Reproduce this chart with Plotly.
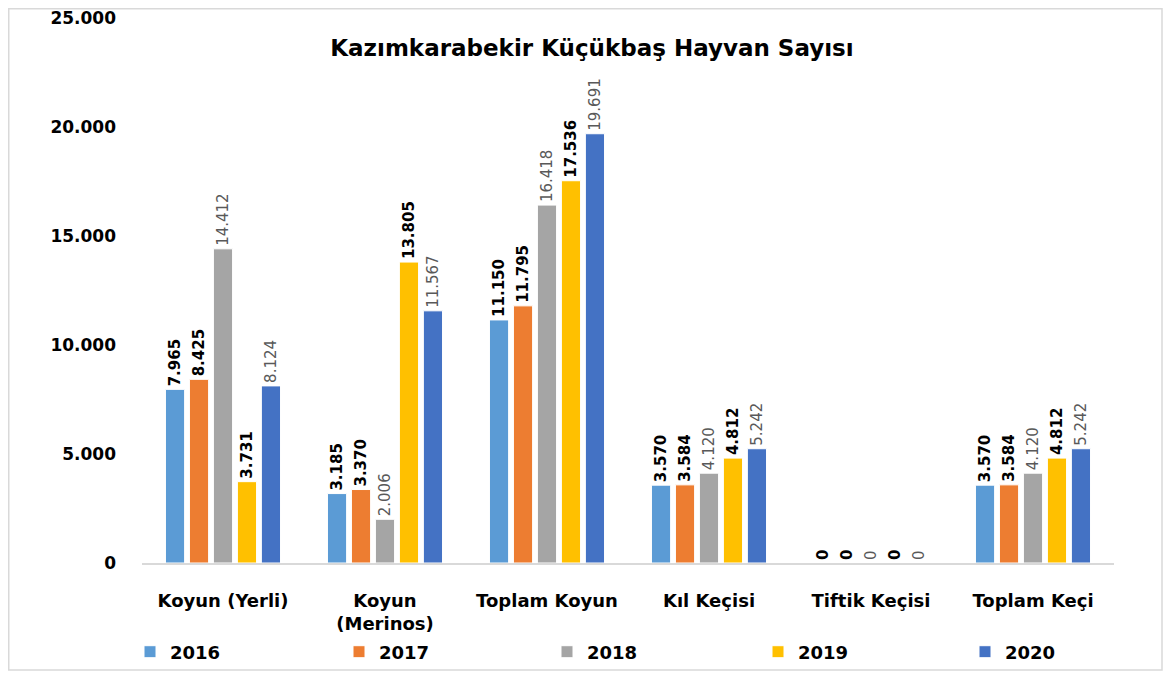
import plotly.graph_objects as go

categories = ["Koyun (Yerli)", "Koyun<br>(Merinos)", "Toplam Koyun", "Kıl Keçisi", "Tiftik Keçisi", "Toplam Keçi"]
years = ["2016", "2017", "2018", "2019", "2020"]
v2016 = [7965, 3185, 11150, 3570, 0, 3570]
v2017 = [8425, 3370, 11795, 3584, 0, 3584]
v2018 = [14412, 2006, 16418, 4120, 0, 4120]
v2019 = [3731, 13805, 17536, 4812, 0, 4812]
v2020 = [8124, 11567, 19691, 5242, 0, 5242]
series = [v2016, v2017, v2018, v2019, v2020]
colors = ["#5B9BD5", "#ED7D31", "#A5A5A5", "#FFC000", "#4472C4"]
label_colors = ["#000000", "#000000", "#595959", "#000000", "#595959"]
label_bold = [True, True, False, True, False]
y_ticks = [0, 5000, 10000, 15000, 20000, 25000]
y_ticktext = ["0", "5.000", "10.000", "15.000", "20.000", "25.000"]

def fmt(v):
    return f"{v:,}".replace(",", ".")

FONT = "DejaVu Sans, sans-serif"

# page body margin offset (8px) is accounted for: figure coords = screen coords - 8
OFF = 8
W, H = 1174 - OFF, 675 - OFF
L, T = 142 - OFF, 18 - OFF
PW, PH = 972, 545
R = W - L - PW
B = H - T - PH

def sx(px):  # screen x -> paper
    return (px - OFF - L) / PW

def sy(py):  # screen y -> paper
    return (T + PH - (py - OFF)) / PH

legend_marker_centers = [148, 357, 565, 776, 983]

fig = go.Figure()
for i, (yr, vals, c, lc, b) in enumerate(zip(years, series, colors, label_colors, label_bold)):
    lname = "legend" if i == 0 else f"legend{i+1}"
    fig.add_trace(go.Bar(
        name=f"<b>{yr}</b>", x=categories, y=vals,
        marker=dict(color=c, line=dict(color="white", width=1)),
        text=[(f"<b>{fmt(v)}</b>" if b else fmt(v)) for v in vals],
        textposition="outside", textangle=-90, constraintext="none",
        textfont=dict(size=15, color=lc, family=FONT),
        cliponaxis=False, legend=lname, showlegend=True,
    ))

legend_common = dict(orientation="h", xanchor="left", yanchor="middle",
                     bgcolor="rgba(0,0,0,0)",
                     font=dict(size=18, color="#000000", family=FONT))
legends = {}
for i, mc in enumerate(legend_marker_centers):
    key = "legend" if i == 0 else f"legend{i+1}"
    legends[key] = dict(legend_common, x=sx(mc - 18), y=sy(652))

fig.update_layout(
    width=W, height=H, showlegend=True,
    paper_bgcolor="white", plot_bgcolor="white",
    margin=dict(l=L, r=R, t=T, b=B, autoexpand=False),
    barmode="group", bargap=0.26, bargroupgap=0.2,
    title=dict(text="<b>Kazımkarabekir Küçükbaş Hayvan Sayısı</b>",
               x=(592 - OFF) / W, xref="container", xanchor="center",
               y=1 - (48 - OFF) / H, yref="container", yanchor="middle",
               font=dict(size=23, color="#000000", family=FONT)),
    font=dict(family=FONT, color="#000000"),
    **legends,
)

fig.update_xaxes(showline=True, linecolor="#D9D9D9", linewidth=2,
                 showgrid=False, ticks="", ticklabelstandoff=20, automargin=False,
                 tickfont=dict(size=18, color="#000000", family=FONT),
                 tickmode="array", tickvals=categories,
                 ticktext=[f"<b>{c}</b>" for c in categories])
fig.update_yaxes(range=[0, 25000], tickvals=y_ticks,
                 ticktext=[f"<b>{t}</b>" for t in y_ticktext],
                 showgrid=False, zeroline=False, showline=False,
                 ticklabelstandoff=25, automargin=False, ticklabeloverflow="allow",
                 tickfont=dict(size=17, color="#000000", family=FONT))

fig.add_shape(type="rect", xref="paper", yref="paper",
              x0=sx(8.75), x1=sx(1162), y0=sy(670), y1=sy(8.75),
              line=dict(color="#D9D9D9", width=1.5), fillcolor="rgba(0,0,0,0)")

fig.write_html("out.html")
